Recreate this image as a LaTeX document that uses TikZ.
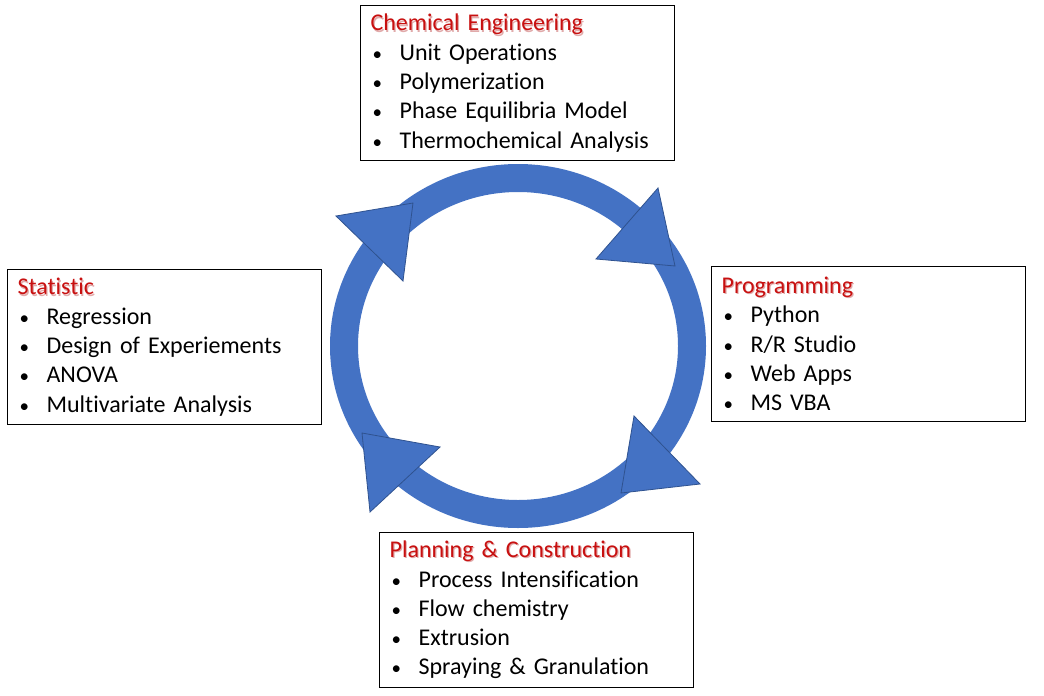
\documentclass[tikz,border=0pt]{standalone}
\usepackage{fontspec}
\setmainfont{Carlito}[Ligatures={NoCommon}]
\definecolor{ringblue}{RGB}{68,114,196}
\definecolor{edgeblue}{RGB}{47,82,143}
\definecolor{titred}{RGB}{200,16,16}
\definecolor{titshadow}{RGB}{225,170,170}
\newcommand{\bul}{\makebox[29pt][l]{\hspace{2pt}{\fontsize{19}{19}\selectfont •}}}
\newcommand{\ttl}[1]{\rlap{\hspace{1.2pt}\raisebox{-1.2pt}{\textcolor{titshadow}{#1}}}\textcolor{titred}{#1}}
\begin{document}
\begin{tikzpicture}[x=1pt,y=-1pt,
  box/.style={draw=black,line width=1.2pt,fill=white,anchor=north west,
    text width=294pt,inner xsep=10pt,inner ysep=0pt,minimum height=155pt,
    align=left,font=\fontsize{24}{29.3}\selectfont},
  headtri/.style={fill=ringblue,draw=edgeblue,line width=0.8pt,line join=miter}]
\useasboundingbox[fill=white] (0,0) rectangle (1044,696);
% ring
\fill[ringblue,even odd rule] (518,346) ellipse [x radius=188pt,y radius=182pt]
  (518,346) ellipse [x radius=160pt,y radius=154pt];
% arrow heads
\draw[headtri] (336,216) -- (413,203) -- (403,281) -- cycle;
\draw[headtri] (658,188) -- (675,266) -- (596,259) -- cycle;
\draw[headtri] (634,416) -- (700,484) -- (621,493) -- cycle;
\draw[headtri] (362,433) -- (440,447) -- (370,512) -- cycle;
% boxes
\node[box] (chem) at (360,5) {\ttl{Chemical Engineering}\\
  \bul Unit Operations\\ \bul Polymerization\\ \bul Phase Equilibria Model\\ \bul Thermochemical Analysis};
\node[box] (stat) at (7,269) {\ttl{Statistic}\\
  \bul Regression\\ \bul Design of Experiements\\ \bul ANOVA\\ \bul Multivariate Analysis};
\node[box] (prog) at (711,266) {\ttl{Programming}\\
  \bul Python\\ \bul R/R Studio\\ \bul Web Apps\\ \bul MS VBA};
\node[box] (plan) at (379,532) {\ttl{Planning \& Construction}\\
  \bul Process Intensification\\ \bul Flow chemistry\\ \bul Extrusion\\ \bul Spraying \& Granulation};
\end{tikzpicture}
\end{document}
